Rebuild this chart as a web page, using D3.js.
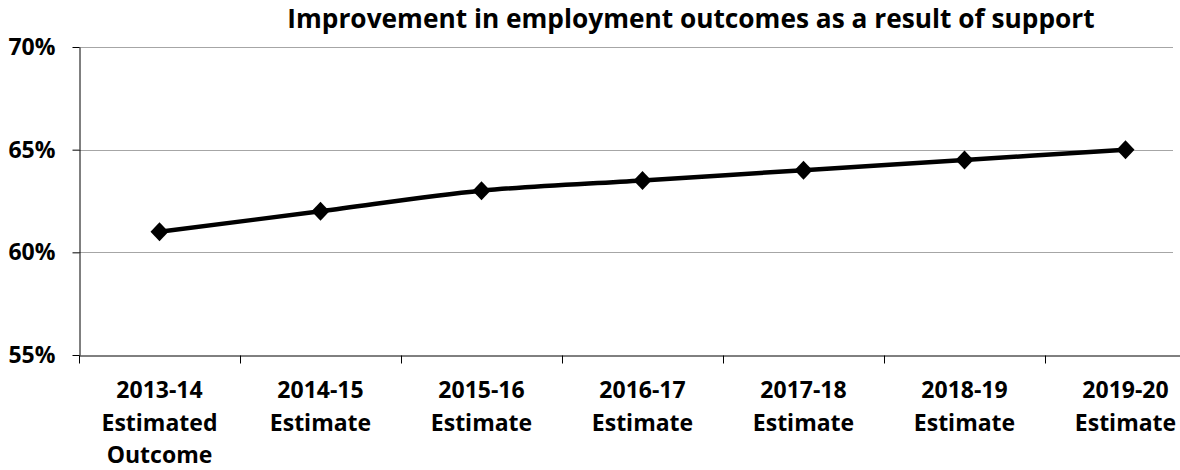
<!DOCTYPE html>
<html lang="en">
<head>
  <meta charset="UTF-8" />
  <title>Improvement in employment outcomes</title>
  <script src="https://d3js.org/d3.v7.min.js"></script>
  <style>
    body { margin: 0; background: #fff; }
    text { font-family: "Open Sans", sans-serif; fill: #000; }
    .tick-label { font-size: 23px; font-weight: bold; }
    .grid line { stroke: #a6a6a6; stroke-width: 1px; }
  </style>
</head>
<body>
  <svg width="1180" height="470"></svg>
  <script>
    const categories = [
      ["2013-14", "Estimated", "Outcome"],
      ["2014-15", "Estimate"],
      ["2015-16", "Estimate"],
      ["2016-17", "Estimate"],
      ["2017-18", "Estimate"],
      ["2018-19", "Estimate"],
      ["2019-20", "Estimate"]
    ];
    const values = [0.61, 0.62, 0.63, 0.635, 0.64, 0.645, 0.65];
    const yTicks = [0.55, 0.60, 0.65, 0.70];
    const title = "Improvement in employment outcomes as a result of support";

    const svg = d3.select("svg");
    const plot = { left: 79, right: 1206, top: 47, bottom: 355 };
    const keys = categories.map(c => c[0]);

    const x = d3.scaleBand().domain(keys).range([plot.left, plot.right]).padding(0);
    const y = d3.scaleLinear().domain([0.55, 0.70]).range([plot.bottom, plot.top]);

    // gridlines
    svg.append("g").attr("class", "grid")
      .selectAll("line").data(yTicks.slice(1)).enter().append("line")
      .attr("x1", plot.left).attr("x2", 1173)
      .attr("y1", d => Math.round(y(d)) + 0.5).attr("y2", d => Math.round(y(d)) + 0.5);

    // y axis
    const yAxis = svg.append("g")
      .attr("transform", `translate(${plot.left + 0.5},0)`)
      .call(d3.axisLeft(y).tickValues(yTicks).tickFormat(d3.format(".0%")).tickSize(7).tickSizeOuter(0));
    yAxis.attr("font-size", null).attr("font-family", null);
    yAxis.select(".domain").attr("stroke", "#000");
    yAxis.selectAll(".tick line").attr("stroke", "#000");
    yAxis.selectAll(".tick text").attr("class", "tick-label").attr("x", -24);

    // x axis
    const xAxis = svg.append("g")
      .attr("transform", `translate(0,${plot.bottom + 0.5})`)
      .call(d3.axisBottom(x).tickSize(0).tickSizeOuter(0).tickFormat(""));
    xAxis.select(".domain").attr("stroke", "#000");
    // category boundary ticks
    xAxis.selectAll("line.bound").data(keys).enter().append("line")
      .attr("class", "bound")
      .attr("x1", d => Math.round(x(d)) + 0.5).attr("x2", d => Math.round(x(d)) + 0.5)
      .attr("y1", 0).attr("y2", 8).attr("stroke", "#000");

    // category labels
    const lab = svg.append("g").selectAll("text").data(categories).enter().append("text")
      .attr("class", "tick-label")
      .attr("text-anchor", "middle")
      .attr("x", d => x(d[0]) + x.bandwidth() / 2)
      .attr("y", 398);
    lab.selectAll("tspan").data(d => d).enter().append("tspan")
      .attr("x", function () { return d3.select(this.parentNode).attr("x"); })
      .attr("dy", (d, i) => i === 0 ? 0 : 32.5)
      .text(d => d);

    // line
    const pts = values.map((v, i) => [x(keys[i]) + x.bandwidth() / 2, y(v)]);
    svg.append("path")
      .datum(pts)
      .attr("fill", "none")
      .attr("stroke", "#000")
      .attr("stroke-width", 4.5)
      .attr("d", d3.line().curve(d3.curveCatmullRom.alpha(0.5)));

    // markers
    svg.append("g").selectAll("path").data(pts).enter().append("path")
      .attr("transform", d => `translate(${d[0]},${d[1]})`)
      .attr("d", "M0,-9.5L9,0L0,9.5L-9,0Z")
      .attr("fill", "#000");

    // title, sized to span roughly 287..1095 like the reference
    const t = svg.append("text")
      .attr("x", 691).attr("y", 28)
      .attr("text-anchor", "middle")
      .attr("font-size", 25).attr("font-weight", "bold")
      .text(title);
    const w = t.node().getComputedTextLength();
    if (w > 0) t.attr("font-size", 25 * 808 / w);
  </script>
</body>
</html>
